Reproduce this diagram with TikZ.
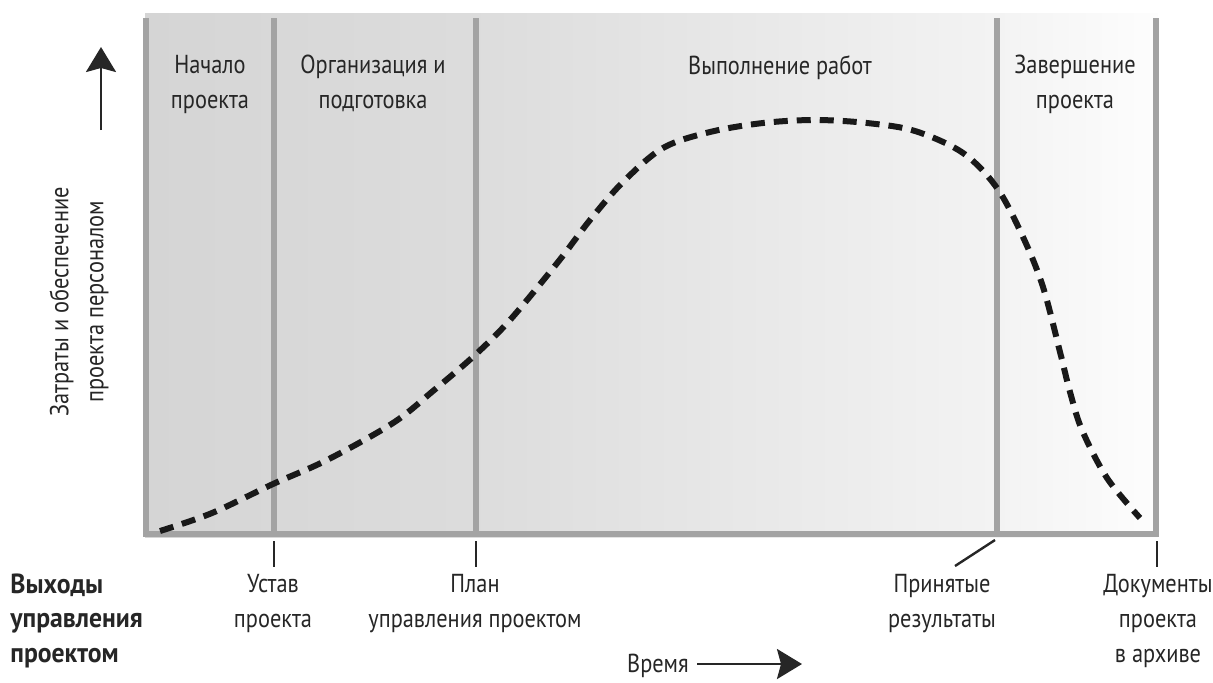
\documentclass[tikz,border=0pt]{standalone}
\usepackage{fontspec}
\setmainfont[FakeStretch=0.86]{PT Sans}
\newfontfamily\boldlabfont[FakeStretch=0.93]{PT Sans Bold}
\usetikzlibrary{arrows.meta}
\definecolor{frameg}{HTML}{A3A3A3}
\definecolor{txt}{HTML}{262626}
\definecolor{sA}{HTML}{D5D5D5}
\definecolor{sB}{HTML}{DCDCDC}
\definecolor{sC}{HTML}{F3F3F3}
\definecolor{sD}{HTML}{FDFDFD}
\pgfdeclarehorizontalshading{bgshade}{100bp}{color(0bp)=(sA); color(25bp)=(sA); color(41bp)=(sB); color(67bp)=(sC); color(75bp)=(sD); color(100bp)=(sD)}
\begin{document}
\begin{tikzpicture}[x=0.5pt,y=-0.5pt,
  lab/.style={font=\fontsize{13}{17.5}\selectfont, align=center, inner sep=0pt, text=txt},
  boldlab/.style={font=\fontsize{13.8}{17.3}\selectfont\boldlabfont, align=left, inner sep=0pt, text=txt},
  framel/.style={draw=frameg, line width=3pt},
  tickl/.style={draw=txt, line width=1.2pt},
  arr/.style={draw=txt, line width=1.3pt, -{Stealth[length=12.5pt,width=15pt,inset=2pt]}},
  curvel/.style={draw=black!90, line width=3pt, dash pattern=on 7pt off 4.5pt}]
\useasboundingbox (0,0) rectangle (1213,682);
% background
\shade[shading=bgshade] (145,13) rectangle (1158,537);
% frame
\coordinate (tl) at (146,18);
\coordinate (bl) at (146,534);
\coordinate (br) at (1156,534);
\coordinate (tr) at (1156,18);
\draw[framel] (tl) -- (bl) -- (br) -- (tr);
\coordinate (d1t) at (274,18);
\coordinate (d1b) at (274,534);
\coordinate (d2t) at (476,18);
\coordinate (d2b) at (476,534);
\coordinate (d3t) at (997,18);
\coordinate (d3b) at (997,534);
\draw[framel] (d1t) -- (d1b);
\draw[framel] (d2t) -- (d2b);
\draw[framel] (d3t) -- (d3b);
% curve
\draw[curvel] plot[smooth, tension=0.55] coordinates {(160,531) (212,513) (273,484) (327,460) (393,423) (433,391) (475,355) (510,320) (558,262) (590,220) (623,182) (663,148) (710,132) (763,123) (815,120) (867,123) (915,131) (963,153) (997,188) (1023,237) (1043,287) (1060,352) (1070,392) (1082,430) (1107,478) (1140,518)};
% phase labels
\node[lab, anchor=north] (p1) at (210,55) {Начало\\проекта};
\node[lab, anchor=north] (p2) at (373,55) {Организация и\\подготовка};
\node[lab, anchor=north] (p3) at (780,55) {Выполнение работ};
\node[lab, anchor=north] (p4) at (1075,55) {Завершение\\проекта};
% y axis
\coordinate (ua1) at (101,130);
\coordinate (ua2) at (101,47);
\draw[arr] (ua1) -- (ua2);
\node[lab, rotate=90] (yl) at (79,302) {Затраты и обеспечение\\проекта персоналом};
% ticks
\coordinate (t1a) at (274,541);
\coordinate (t1b) at (274,567);
\coordinate (t2a) at (476,541);
\coordinate (t2b) at (476,567);
\coordinate (t3a) at (995,540);
\coordinate (t3b) at (955,566);
\coordinate (t4a) at (1157,541);
\coordinate (t4b) at (1157,567);
\draw[tickl] (t1a) -- (t1b);
\draw[tickl] (t2a) -- (t2b);
\draw[tickl] (t3a) -- (t3b);
\draw[tickl] (t4a) -- (t4b);
% outputs
\node[boldlab, anchor=north west] (out) at (10,573) {Выходы\\управления\\проектом};
\node[lab, anchor=north] (o1) at (273,574) {Устав\\проекта};
\node[lab, anchor=north] (o2) at (475,574) {План\\управления проектом};
\node[lab, anchor=north] (o3) at (942,574) {Принятые\\результаты};
\node[lab, anchor=north] (o4) at (1158,574) {Документы\\проекта\\в архиве};
% time axis
\node[lab] (time) at (658,666) {Время};
\coordinate (ta) at (697,664);
\coordinate (tb) at (802,664);
\draw[arr] (ta) -- (tb);
\end{tikzpicture}
\end{document}
